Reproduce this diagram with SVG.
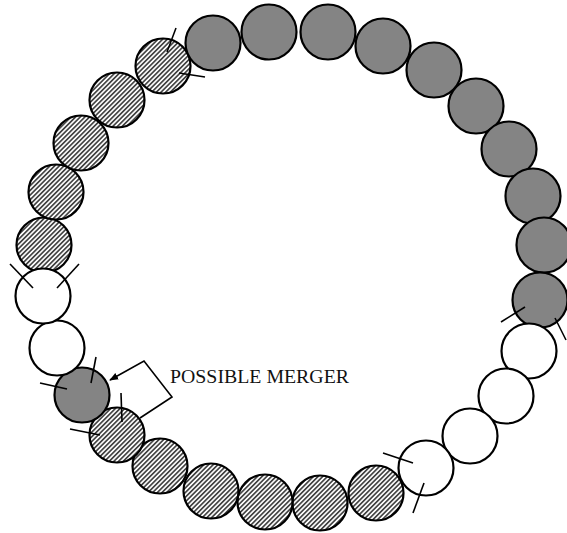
<svg xmlns="http://www.w3.org/2000/svg" width="567" height="533" viewBox="0 0 567 533">
<defs>
<pattern id="hatch" patternUnits="userSpaceOnUse" width="3.3" height="3.3" patternTransform="rotate(45)">
<rect width="3.3" height="3.3" fill="#ffffff"/>
<rect width="1.7" height="3.3" fill="#444"/>
</pattern>
<marker id="arr" viewBox="0 0 10 10" refX="9" refY="5" markerWidth="9" markerHeight="9" orient="auto" markerUnits="userSpaceOnUse">
<path d="M0,1 L10,5 L0,9 Z" fill="#000"/>
</marker>
</defs>
<style>
circle{stroke:#000;stroke-width:2.2}
.h{fill:url(#hatch)}
.d{fill:#848484}
.w{fill:#fff}
.t{stroke:#000;stroke-width:1.6;fill:none}
.lbl{font-family:"Liberation Serif","Times New Roman",serif;font-size:18.5px;fill:#111}
</style>
<g id="n1"><circle class="h" cx="44" cy="245" r="27.5"/></g>
<g id="n2"><circle class="h" cx="56" cy="192" r="27.5"/></g>
<g id="n3"><circle class="h" cx="81" cy="143" r="27.5"/></g>
<g id="n4"><circle class="h" cx="117" cy="100" r="27.5"/></g>
<g id="n5"><circle class="h" cx="163" cy="66" r="27.5"/><line class="t" x1="176" y1="28" x2="167" y2="52"/><line class="t" x1="205" y1="77" x2="179" y2="73"/></g>
<g id="n6"><circle class="d" cx="213" cy="43" r="27.5"/></g>
<g id="n7"><circle class="d" cx="269" cy="32" r="27.5"/></g>
<g id="n8"><circle class="d" cx="328" cy="32" r="27.5"/></g>
<g id="n9"><circle class="d" cx="383" cy="46" r="27.5"/></g>
<g id="n10"><circle class="d" cx="434" cy="70" r="27.5"/></g>
<g id="n11"><circle class="d" cx="476" cy="106" r="27.5"/></g>
<g id="n12"><circle class="d" cx="509" cy="149" r="27.5"/></g>
<g id="n13"><circle class="d" cx="533" cy="196" r="27.5"/></g>
<g id="n14"><circle class="d" cx="544" cy="245" r="27.5"/></g>
<g id="n15"><circle class="d" cx="540" cy="300" r="27.5"/><line class="t" x1="501" y1="322" x2="525" y2="307"/><line class="t" x1="555" y1="318" x2="566" y2="340"/></g>
<g id="n16"><circle class="w" cx="529" cy="351" r="27.5"/></g>
<g id="n17"><circle class="w" cx="506" cy="396" r="27.5"/></g>
<g id="n18"><circle class="w" cx="470" cy="436" r="27.5"/></g>
<g id="n19"><circle class="w" cx="426" cy="468" r="27.5"/><line class="t" x1="383" y1="453" x2="413" y2="463"/><line class="t" x1="424" y1="483" x2="413" y2="513"/></g>
<g id="n20"><circle class="h" cx="376" cy="493" r="27.5"/></g>
<g id="n21"><circle class="h" cx="320" cy="503" r="27.5"/></g>
<g id="n22"><circle class="h" cx="265" cy="502" r="27.5"/></g>
<g id="n23"><circle class="h" cx="211" cy="491" r="27.5"/></g>
<g id="n24"><circle class="h" cx="160" cy="466" r="27.5"/></g>
<g id="n25"><circle class="h" cx="117" cy="435" r="27.5"/><line class="t" x1="121" y1="393" x2="122" y2="422"/><line class="t" x1="70" y1="429" x2="100" y2="435"/></g>
<g id="n26"><circle class="d" cx="82" cy="395" r="27.5"/><line class="t" x1="96" y1="357" x2="91" y2="383"/><line class="t" x1="40" y1="383" x2="67" y2="389"/></g>
<g id="n27"><circle class="w" cx="57" cy="348" r="27.5"/></g>
<g id="n28"><circle class="w" cx="43" cy="296" r="27.5"/><line class="t" x1="10" y1="264" x2="33" y2="288"/><line class="t" x1="79" y1="264" x2="57" y2="288"/></g>
<g id="connectors">
<polyline class="t" points="140,418 172,397 144,361 110,380" marker-end="url(#arr)"/>
</g>
<g id="label"><text class="lbl" x="170" y="383" textLength="179" lengthAdjust="spacingAndGlyphs">POSSIBLE MERGER</text></g>
</svg>
